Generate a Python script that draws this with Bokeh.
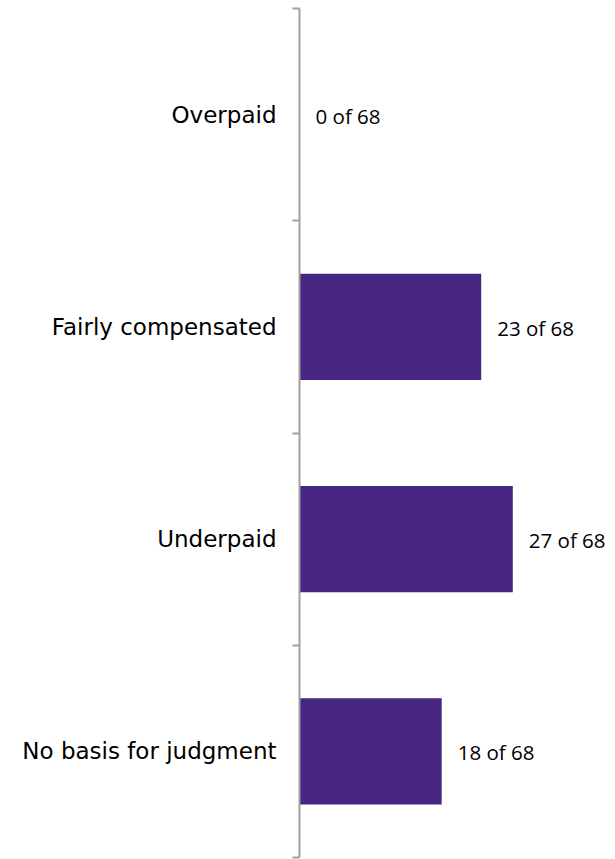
from bokeh.plotting import figure
from bokeh.models import ColumnDataSource, FixedTicker, Range1d
from bokeh.core.properties import value
from bokeh.embed import file_html
from bokeh.resources import INLINE

categories = ["Overpaid", "Fairly compensated", "Underpaid", "No basis for judgment"]
counts = [0, 23, 27, 18]
total = 68

n = len(categories)
ypos = [n - i - 0.5 for i in range(n)]
labels = [f"{c} of {total}" for c in counts]

src = ColumnDataSource(dict(y=ypos, right=counts, label=labels))

p = figure(width=615, height=859, output_backend="svg", toolbar_location=None,
           x_range=Range1d(0, 40), y_range=Range1d(0, n),
           x_axis_location=None, min_border_left=299, min_border_right=0,
           min_border_top=8, min_border_bottom=2)
p.outline_line_color = None
p.xgrid.visible = False
p.ygrid.visible = False

p.hbar(y="y", left=0, right="right", height=0.5, source=src,
       fill_color="#472781", line_color=None)

p.text(x="right", y="y", text="label", source=src, x_offset=16, y_offset=1,
       text_baseline="middle", text_align="left", text_font=value("Open Sans"),
       text_font_size="20.5px", text_color="#000000")

ax = p.yaxis[0]
ax.ticker = FixedTicker(ticks=ypos, minor_ticks=list(range(n + 1)))
ax.major_label_overrides = {y: c for y, c in zip(ypos, categories)}
ax.major_tick_out = 0
ax.major_tick_in = 0
ax.minor_tick_out = 7
ax.minor_tick_in = 0
ax.minor_tick_line_color = "#a0a0a0"
ax.minor_tick_line_width = 2
ax.axis_line_color = "#a0a0a0"
ax.axis_line_width = 2
ax.major_label_standoff = 16
ax.major_label_text_font = "DejaVu Sans"
ax.major_label_text_font_style = "normal"
ax.major_label_text_font_size = "23px"
ax.major_label_text_color = "#000000"

open("out.html", "w").write(file_html(p, INLINE))
